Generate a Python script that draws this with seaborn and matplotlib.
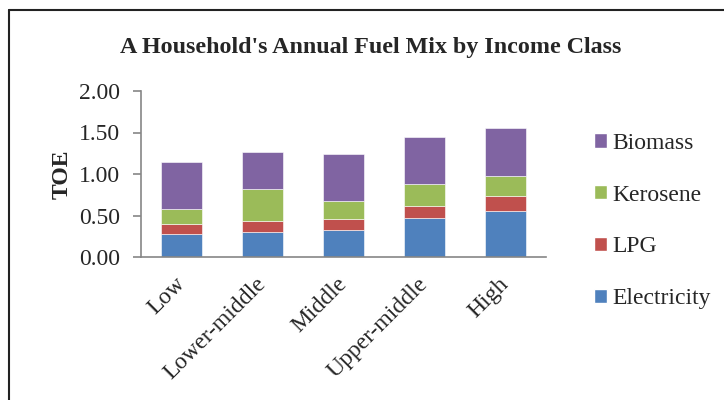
import numpy as np
import matplotlib
matplotlib.use("Agg")
import matplotlib.pyplot as plt
import matplotlib.transforms as mtransforms
import seaborn as sns
from matplotlib.patches import Patch
from matplotlib.lines import Line2D

# data (TOE per household per year)
income_classes = ["Low", "Lower-middle", "Middle", "Upper-middle", "High"]
electricity = [0.28, 0.30, 0.32, 0.47, 0.55]
lpg = [0.12, 0.13, 0.14, 0.14, 0.19]
kerosene = [0.18, 0.39, 0.22, 0.27, 0.23]
biomass = [0.57, 0.45, 0.56, 0.56, 0.58]

fuels = ["Electricity", "LPG", "Kerosene", "Biomass"]
fuel_colors = ["#4F81BD", "#C0504D", "#9BBB59", "#8064A2"]

sns.set_style("white")
plt.rcParams["font.family"] = ["Liberation Serif", "DejaVu Serif"]

fig = plt.figure(figsize=(7.24, 4.0), dpi=100)
ax = fig.add_axes([0.195, 0.3575, 0.559, 0.415])

axis_gray = "#868686"
bottom = np.zeros(len(income_classes))
for name, vals, col in zip(fuels, [electricity, lpg, kerosene, biomass], fuel_colors):
    sns.barplot(x=income_classes, y=vals, bottom=bottom, color=col, width=0.5,
                edgecolor="white", linewidth=0.4, saturation=1, ax=ax)
    bottom = bottom + np.array(vals)

ax.set_xlim(-0.5, len(income_classes) - 0.5)
ax.set_ylim(0, 2.0)
ax.set_yticks(np.arange(0, 2.01, 0.5))
ax.set_yticklabels([f"{v:.2f}" for v in np.arange(0, 2.01, 0.5)], fontsize=17)
ax.set_xticks(range(len(income_classes)))
ax.set_xticklabels(income_classes, fontsize=17, rotation=45, ha="right",
                   rotation_mode="anchor")
ax.set_xticks(np.arange(-0.5, len(income_classes), 1), minor=True)
ax.tick_params(axis="x", which="major", length=0, pad=12)
ax.tick_params(axis="x", which="minor", length=6, color=axis_gray, width=1.2, direction="out")
ax.tick_params(axis="y", length=6, color=axis_gray, width=1.2, direction="out", pad=9,
               left=True)
# nudge the slanted category labels a little to the left
shift = mtransforms.ScaledTranslation(-7 / 100, 0, fig.dpi_scale_trans)
for lab in ax.get_xticklabels():
    lab.set_transform(lab.get_transform() + shift)
ax.set_xlabel("")
ax.set_ylabel("TOE", fontsize=17, fontweight="bold", labelpad=5)

sns.despine(ax=ax)
for s in ["left", "bottom"]:
    ax.spines[s].set_color(axis_gray)
    ax.spines[s].set_linewidth(1.2)

fig.text(0.512, 0.8825, "A Household's Annual Fuel Mix by Income Class",
         ha="center", va="center", fontsize=17.3, fontweight="bold")

handles = [Patch(facecolor=c, label=f) for f, c in zip(fuels, fuel_colors)][::-1]
fig.legend(handles=handles, loc="center left", bbox_to_anchor=(0.82, 0.4475),
           frameon=False, fontsize=17, labelspacing=1.3,
           handlelength=0.55, handleheight=0.55, handletextpad=0.25,
           borderaxespad=0, borderpad=0)

# outer chart border (top and left edges visible)
bx = 8.5 / 724
by = 1 - 9.5 / 400
fig.add_artist(Line2D([bx, 1], [by, by], color="#222222", lw=1.5, transform=fig.transFigure))
fig.add_artist(Line2D([bx, bx], [0, by], color="#222222", lw=1.5, transform=fig.transFigure))

fig.savefig("out.png", dpi=100)
